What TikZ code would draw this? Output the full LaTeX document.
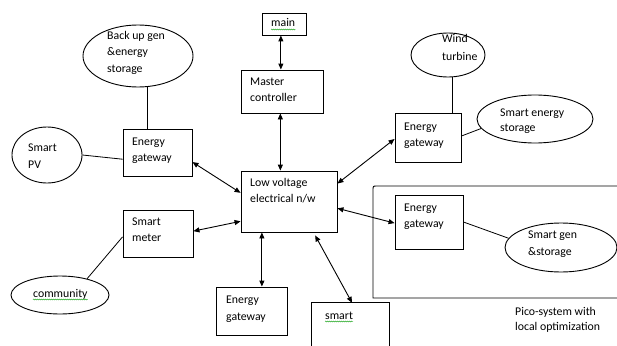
\documentclass[tikz,border=0pt]{standalone}
\usepackage{fontspec}
\setmainfont{Carlito}
\usetikzlibrary{arrows.meta,shapes.geometric,calc,decorations.pathmorphing}
\begin{document}
\begin{tikzpicture}[x=1pt,y=-1pt,
  box/.style={draw,line width=0.9pt,rectangle,inner sep=0pt},
  oval/.style={draw,line width=0.9pt,ellipse,inner sep=0pt},
  t/.style={anchor=base west,inner sep=0pt,font=\fontsize{11.8}{13}\selectfont},
  dbl/.style={line width=0.9pt,{Triangle[length=6pt,width=5pt]}-{Triangle[length=6pt,width=5pt]}},
  ln/.style={line width=0.8pt},
  spell/.style={draw=green!60!black,line width=0.4pt,decorate,decoration={snake,segment length=2pt,amplitude=0.5pt}}]
\useasboundingbox (0,0) rectangle (617,345);
% boxes
\node[box,minimum width=44pt,minimum height=22pt] (main) at (284,24) {};
\node[box,minimum width=82pt,minimum height=43pt] (master) at (282,91.5) {};
\node[box,minimum width=96pt,minimum height=61pt] (lv) at (289,201.5) {};
\node[box,minimum width=69pt,minimum height=47pt] (leg) at (157.5,152.5) {};
\node[box,minimum width=70pt,minimum height=47pt] (sm) at (158,233.5) {};
\node[box,minimum width=71pt,minimum height=48pt] (beg) at (251.5,311) {};
\node[box,minimum width=66pt,minimum height=49pt] (reg) at (428,137.5) {};
\node[box,minimum width=68pt,minimum height=54pt] (peg) at (429,222) {};
% smart box (cut at bottom)
\node[minimum width=77pt,minimum height=44pt,inner sep=0pt] (smart) at (350.5,325) {};
\draw[line width=0.9pt] (smart.south west) -- (smart.north west) -- (smart.north east) -- (smart.south east);
% pico system frame
\coordinate (picoTL) at (373,186);
\coordinate (picoBL) at (373,298);
\draw[line width=0.9pt] (620,186) -- (377,186) .. controls (picoTL) .. (373,190) -- (picoBL) -- (620,298);
% ellipses
\node[oval,minimum width=110pt,minimum height=62pt] (backup) at (138,56) {};
\node[oval,minimum width=70pt,minimum height=56pt] (pv) at (47,155) {};
\node[oval,minimum width=74pt,minimum height=44pt] (wind) at (448,55) {};
\node[oval,minimum width=116pt,minimum height=48pt] (ses) at (535,119) {};
\node[oval,minimum width=98pt,minimum height=38pt] (comm) at (60,295) {};
\node[oval,minimum width=112pt,minimum height=49pt] (sg) at (561,247.5) {};
% texts
\node[t] (tmain) at (271,27) {main};
\node[t] (tm1) at (250,85) {Master};
\node[t] (tm2) at (250,101.5) {controller};
\node[t] (tlv1) at (250,186) {Low voltage};
\node[t] (tlv2) at (250,202) {electrical n/w};
\node[t] (tleg1) at (132,145) {Energy};
\node[t] (tleg2) at (132,161) {gateway};
\node[t] (tsm1) at (132,225) {Smart};
\node[t] (tsm2) at (132,241) {meter};
\node[t] (tbeg1) at (226,303) {Energy};
\node[t] (tbeg2) at (226,320) {gateway};
\node[t] (tsmart) at (325,319) {smart};
\node[t] (treg1) at (404,130) {Energy};
\node[t] (treg2) at (404,146) {gateway};
\node[t] (tpeg1) at (404,211) {Energy};
\node[t] (tpeg2) at (404,227) {gateway};
\node[t] (tbu1) at (107,39) {Back up gen};
\node[t] (tbu2) at (107,56) {\&energy};
\node[t] (tbu3) at (107,72) {storage};
\node[t] (tpv1) at (28,151) {Smart};
\node[t] (tpv2) at (28,168) {PV};
\node[t] (tw1) at (442,43) {Wind};
\node[t] (tw2) at (442,60) {turbine};
\node[t] (tses1) at (500,116) {Smart energy};
\node[t] (tses2) at (500,131) {storage};
\node[t] (tcomm) at (33,297) {community};
\node[t] (tsg1) at (528,238) {Smart gen};
\node[t] (tsg2) at (528,255) {\&storage};
\node[t] (tp1) at (515,315) {Pico-system with};
\node[t] (tp2) at (515,330) {local optimization};
% spell-check underlines
\draw[spell] ($(tmain.base west)+(0,2.5)$) -- ($(tmain.base east)+(0,2.5)$);
\draw[spell] ($(tcomm.base west)+(0,2.5)$) -- ($(tcomm.base east)+(0,2.5)$);
\draw[spell] ($(tsmart.base west)+(0,2.5)$) -- ($(tsmart.base east)+(0,2.5)$);
% arrows
\coordinate (m1) at ($(main.south west)!0.43!(main.south east)$);
\draw[dbl] (m1) -- (m1 |- master.north);
\coordinate (m2) at ($(master.south west)!0.48!(master.south east)$);
\draw[dbl] (m2) -- (m2 |- lv.north);
\draw[dbl] ($(leg.north east)!0.70!(leg.south east)$) -- ($(lv.north west)!0.36!(lv.south west)$);
\draw[dbl] ($(sm.north east)!0.45!(sm.south east)$) -- ($(lv.north west)!0.82!(lv.south west)$);
\coordinate (m3) at ($(lv.south west)!0.22!(lv.south east)$);
\draw[dbl] (m3) -- (m3 |- beg.north);
\draw[dbl] ($(lv.south west)!0.77!(lv.south east)+(0,3)$) -- ($(smart.north west)!0.52!(smart.north east)$);
\draw[dbl] ($(lv.north east)!0.21!(lv.south east)$) -- ($(reg.north west)!0.53!(reg.south west)$);
\draw[dbl] ($(lv.north east)!0.61!(lv.south east)$) -- ($(peg.north west)!0.52!(peg.south west)$);
% plain lines
\coordinate (b1) at ($(leg.north west)!0.36!(leg.north east)$);
\draw[ln] (b1) -- (b1 |- backup.south);
\draw[ln] (pv.east) -- ($(leg.north west)!0.64!(leg.south west)$);
\draw[ln] ($(sm.north west)!0.57!(sm.south west)$) -- (comm.31);
\coordinate (w1) at ($(reg.north west)!0.86!(reg.north east)$);
\draw[ln] (w1) -- (w1 |- wind.south);
\draw[ln] ($(reg.north east)!0.47!(reg.south east)$) -- (ses.190);
\draw[ln] (peg.east) -- (sg.170);
\end{tikzpicture}
\end{document}
